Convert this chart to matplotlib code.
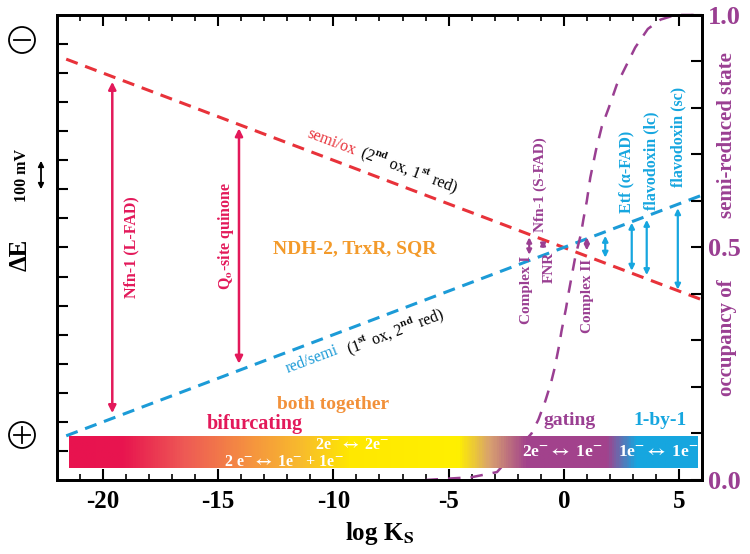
import numpy as np
import matplotlib
matplotlib.use("Agg")
import matplotlib.pyplot as plt
from matplotlib.colors import LinearSegmentedColormap
from matplotlib.patches import Circle, FancyArrowPatch
from matplotlib.lines import Line2D

plt.rcParams['font.family'] = ['Liberation Serif', 'DejaVu Serif']
plt.rcParams['font.weight'] = 'bold'
plt.rcParams['axes.labelweight'] = 'bold'
plt.rcParams['mathtext.fontset'] = 'stix'
plt.rcParams['mathtext.default'] = 'bf'
plt.rcParams['axes.unicode_minus'] = False

RED = '#e8323a'
BLUE = '#1c9bd7'
PURPLE = '#9a3f92'
CRIMSON = '#e3195a'
ORANGE = '#f2913a'
CYAN = '#16a6df'

# potential lines, dE in tick units (16 ticks over the axis)
line_x = [-21.6, 6.0]
semi_ox = [14.48, 6.2]
red_semi = [1.52, 9.8]

# occupancy of the semi-reduced state (right axis)
occ_x = [-6.0, -4.0, -2.9, -1.4, -1.1, -0.8, -0.55, -0.4, -0.2, -0.1, 0.1, 0.2,
         0.35, 0.5, 0.75, 0.85, 1.0, 1.15, 1.4, 1.65, 1.95, 2.3, 2.7, 3.1, 3.65,
         4.2, 4.85, 5.5, 6.0]
occ_y = [0.0, 0.006, 0.017, 0.10, 0.13, 0.17, 0.21, 0.24, 0.29, 0.32, 0.37, 0.40,
         0.44, 0.48, 0.53, 0.56, 0.60, 0.65, 0.71, 0.76, 0.80, 0.85, 0.89, 0.93, 0.97,
         0.99, 1.0, 1.0, 1.0]

# bifurcating arrows
red_arrow_x = [-19.6, -14.1]
red_arrow_lo = [2.3, 4.0]
red_arrow_hi = [13.7, 12.1]
red_labels = ['Nfn-1 (L-FAD)', r'Q$_\mathrm{o}$-site quinone']
red_label_x = [-18.75, -14.65]
red_label_y = [8.0, 8.4]

# gating arrows
purple_arrow_x = [-1.5, -0.9, 1.0]
purple_arrow_lo = [7.75, 7.95, 7.9]
purple_arrow_hi = [8.35, 8.25, 8.35]
purple_labels = ['Complex I', 'Nfn-1 (S-FAD)', 'FNR', 'Complex II']
purple_label_x = [-1.6, -1.0, -0.62, 1.04]
purple_label_y = [7.7, 8.53, 7.85, 7.62]
purple_label_va = ['top', 'bottom', 'top', 'top']

# 1-by-1 arrows
blue_arrow_x = [1.8, 2.95, 3.6, 4.95]
blue_arrow_lo = [7.65, 7.2, 7.05, 6.55]
blue_arrow_hi = [8.4, 8.85, 8.95, 9.35]
blue_labels = [u'Etf (\u03b1-FAD)', 'flavodoxin (lc)', 'flavodoxin (sc)']
blue_label_x = [2.72, 3.8, 4.97]
blue_label_y = [9.19, 9.29, 10.08]

# gradient bar
bar_x = [-21.5, 5.8]
bar_y = [0.41, 1.48]
bar_stops = [-21.5, -19.2, -16.5, -13.6, -11.4, -9.3, -4.6, -3.2, -1.6, 1.9, 3.2, 5.8]
bar_colors = ['#e8134f', '#e8154f', '#ee5a55', '#f5943f', '#f8bc2c', '#ffe800',
              '#fff000', '#d8a070', '#a2428c', '#a2428c', '#16a6df', '#16a6df']

fig = plt.figure(figsize=(7.5, 5.54), dpi=100)
ax = fig.add_subplot(1, 1, 1)
fig.subplots_adjust(left=0.076, right=0.936, bottom=0.1336, top=0.973)

# lines
ax.plot(line_x, semi_ox, color=RED, lw=2.2, ls=(0, (4, 2.6)), zorder=2)
ax.plot(line_x, red_semi, color=BLUE, lw=2.2, ls=(0, (4, 2.6)), zorder=2)
ax.plot(occ_x, occ_y, color=PURPLE, lw=1.8, ls=(0, (5, 4)), zorder=2,
        transform=ax.get_xaxis_transform(), clip_on=False)

# gradient bar
pos = [(s - bar_stops[0]) / (bar_stops[-1] - bar_stops[0]) for s in bar_stops]
cmap = LinearSegmentedColormap.from_list('bar', list(zip(pos, bar_colors)))
ax.imshow(np.linspace(0, 1, 600)[None, :], extent=[bar_x[0], bar_x[1], bar_y[0], bar_y[1]],
          aspect='auto', cmap=cmap, zorder=3)


def arrows(xs, lo, hi, color, lw, ms):
    for x, a, b in zip(xs, lo, hi):
        ax.annotate('', xy=(x, b), xytext=(x, a),
                    arrowprops=dict(arrowstyle='<|-|>', color=color, lw=lw,
                                    mutation_scale=ms, shrinkA=0, shrinkB=0), zorder=4)


arrows(red_arrow_x, red_arrow_lo, red_arrow_hi, CRIMSON, 1.8, 11)
arrows(purple_arrow_x, purple_arrow_lo, purple_arrow_hi, PURPLE, 1.6, 7)
arrows(blue_arrow_x, blue_arrow_lo, blue_arrow_hi, CYAN, 1.6, 8)

for t, x, y in zip(red_labels, red_label_x, red_label_y):
    ax.text(x, y, t, rotation=90, color=CRIMSON, fontsize=11.5, ha='center', va='center')
for t, x, y, va in zip(purple_labels, purple_label_x, purple_label_y, purple_label_va):
    ax.text(x, y, t, rotation=90, color=PURPLE, fontsize=11, ha='center', va=va)
for t, x, y in zip(blue_labels, blue_label_x, blue_label_y):
    ax.text(x, y, t, rotation=90, color=CYAN, fontsize=11.5, ha='center', va='bottom')

# line labels, rotated along the lines
ang_red = np.degrees(np.arctan((semi_ox[1] - semi_ox[0]) / (line_x[1] - line_x[0])))
ang_blue = np.degrees(np.arctan((red_semi[1] - red_semi[0]) / (line_x[1] - line_x[0])))
kw = dict(fontsize=11.5, weight='normal', ha='center', va='center',
          rotation_mode='anchor', transform_rotates_text=True)
ax.text(-10.1, 11.63, 'semi/ox', color=RED, rotation=ang_red, **kw)
ax.text(-6.7, 10.67, r'(2$^\mathrm{nd}$ ox, 1$^\mathrm{st}$ red)', color='black',
        rotation=ang_red, **kw)
ax.text(-10.93, 4.13, 'red/semi', color=BLUE, rotation=ang_blue, **kw)
ax.text(-7.3, 5.1, r'(1$^\mathrm{st}$ ox, 2$^\mathrm{nd}$ red)', color='black',
        rotation=ang_blue, **kw)

ax.text(-9.07, 7.98, 'NDH-2, TrxR, SQR', color='#f39a2a', fontsize=14, ha='center', va='center')
ax.text(-13.4, 1.93, 'bifurcating', color=CRIMSON, fontsize=14.5, ha='center', va='center')
ax.text(-10.0, 2.58, 'both together', color=ORANGE, fontsize=14, ha='center', va='center')
ax.text(-0.9, 2.06, 'gating', color=PURPLE, fontsize=14, ha='left', va='center')
ax.text(4.2, 2.06, '1-by-1', color=CYAN, fontsize=14, ha='center', va='center')

wk = dict(color='white', ha='center', va='center', zorder=5)
ax.text(-9.2, 1.2, r'2e$^{-}$$\leftrightarrow$ 2e$^{-}$', fontsize=11.5, **wk)
ax.text(-12.14, 0.62, r'2 e$^{-}$$\leftrightarrow$ 1e$^{-}$ + 1e$^{-}$', fontsize=11.5, **wk)
ax.text(-0.09, 0.96, r'2e$^{-}$$\leftrightarrow$ 1e$^{-}$', fontsize=12.5, **wk)
ax.text(4.1, 0.96, r'1e$^{-}$$\leftrightarrow$ 1e$^{-}$', fontsize=12.5, **wk)

# axes
ax.set_xlim(-22, 6)
ax.set_ylim(0, 16)
ax.set_xticks([-20, -15, -10, -5, 0, 5])
ax.set_xticks(np.arange(-21, 6), minor=True)
ax.set_yticks(np.arange(1, 16))
ax.tick_params(axis='x', which='major', direction='in', length=8, width=1.5,
               top=True, labelsize=18, pad=7)
ax.tick_params(axis='x', which='minor', direction='in', length=4, width=1.2, top=True)
ax.tick_params(axis='y', direction='in', length=8, width=1.5, labelleft=False)
ax.set_xlabel(r'log K$_S$', fontsize=18, labelpad=5)
for s in ax.spines.values():
    s.set_linewidth(2)

ax2 = ax.twinx()
ax2.set_ylim(0, 1)
ticks2 = np.round(np.arange(0, 1.01, 0.1), 1)
ax2.set_yticks(ticks2)
ax2.set_yticklabels(['%.1f' % t if t in (0.0, 0.5, 1.0) else '' for t in ticks2])
ax2.tick_params(axis='y', direction='in', length=8, width=1.5, labelsize=19,
                labelcolor=PURPLE, pad=4)
for s in ax2.spines.values():
    s.set_linewidth(2)

# right label, split around the 0.5 tick label
fig.text(727 / 750, 1 - 135 / 554, 'semi-reduced state', rotation=90, color=PURPLE,
         fontsize=15, ha='center', va='center')
fig.text(727 / 750, 1 - 338 / 554, 'occupancy of', rotation=90, color=PURPLE,
         fontsize=15, ha='center', va='center')

# left side decorations: circled minus / plus
for cy, plus in ((40, False), (435, True)):
    cx = 22
    fig.add_artist(Circle((cx, 554 - cy), 13, transform=None, fill=False, lw=1.3, color='black'))
    fig.add_artist(Line2D([cx - 8, cx + 8], [554 - cy, 554 - cy], transform=None,
                          lw=1.3, color='black'))
    if plus:
        fig.add_artist(Line2D([cx, cx], [554 - cy - 8, 554 - cy + 8], transform=None,
                              lw=1.3, color='black'))
fig.text(20 / 750, 1 - 255 / 554, u'\u0394E', rotation=90, fontsize=18, ha='center', va='center')
fig.text(22 / 750, 1 - 175 / 554, '100 mV', rotation=90, fontsize=11.5, ha='center', va='center')
fig.add_artist(FancyArrowPatch(
    (41 / 750, 1 - 192 / 554), (41 / 750, 1 - 158 / 554), transform=fig.transFigure,
    arrowstyle='<|-|>', mutation_scale=8, lw=1.3, color='black'))

fig.savefig('out.png', dpi=100)
